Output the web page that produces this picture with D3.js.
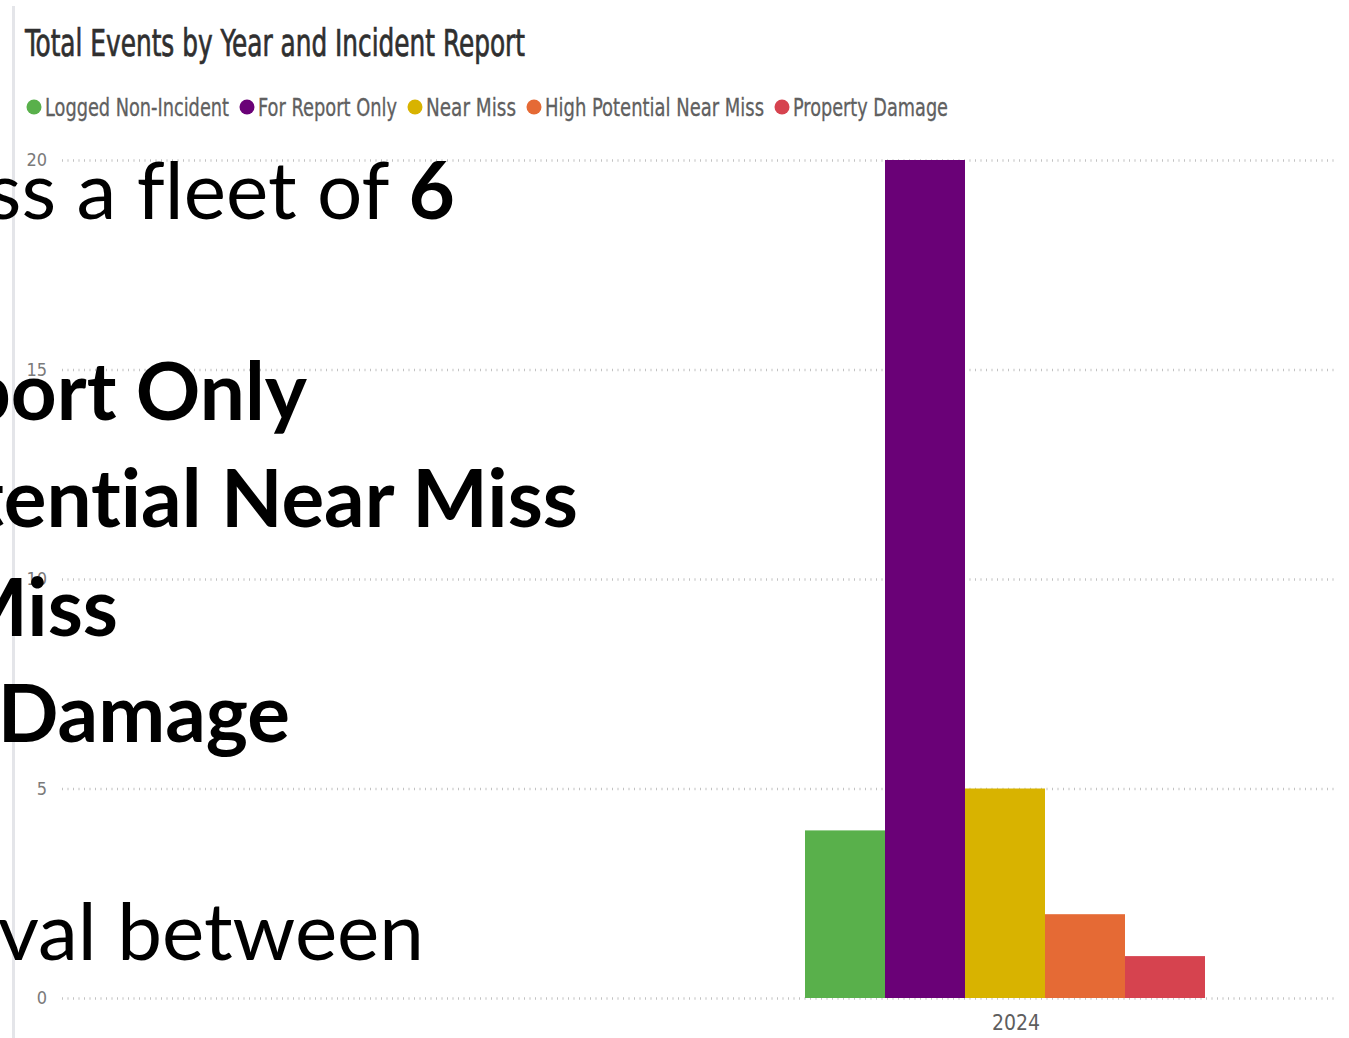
<!DOCTYPE html>
<html>
<head>
<meta charset="utf-8">
<script src="https://cdn.jsdelivr.net/npm/d3@7"></script>
<style>
  html, body { margin: 0; padding: 0; background: #fff; overflow: hidden; }
  svg { display: block; }
</style>
</head>
<body>
<svg id="chart" width="1349" height="1038"></svg>
<script>
// ---- data ----
const years = ["2024"];
const reportTypes = ["Logged Non-Incident", "For Report Only", "Near Miss", "High Potential Near Miss", "Property Damage"];
const counts2024 = [4, 20, 5, 2, 1];
const typeColors = ["#59b04b", "#6a0177", "#d8b300", "#e56a35", "#d6434f"];
const yTicks = [0, 5, 10, 15, 20];
const chartTitle = "Total Events by Year and Incident Report";

// slide notes laid over the chart (each line: runs of regular / bold text)
const noteLines = [
  [{ t: "across a fleet of ", b: false }, { t: "6", b: true }],
  [{ t: "For Report Only", b: true }],
  [{ t: "High Potential Near Miss", b: true }],
  [{ t: "Near Miss", b: true }],
  [{ t: "Property Damage", b: true }],
  [{ t: "interval between", b: false }]
];

// ---- layout ----
const W = 1349, H = 1038;
const plot = { left: 62, right: 1335, top: 160, bottom: 998 };
const groupRange = [805, 1205];
const condensed = "'Liberation Sans Narrow', 'DejaVu Sans Condensed', Roboto, sans-serif";

const svg = d3.select("#chart");

// panel edge
svg.append("line")
  .attr("x1", 13.5).attr("x2", 13.5).attr("y1", 6).attr("y2", H)
  .attr("stroke", "#e4e5e9").attr("stroke-width", 3);

// title
svg.append("text")
  .attr("x", 25).attr("y", 56)
  .attr("font-family", condensed)
  .attr("font-size", 37)
  .attr("fill", "#2f2f2f")
  .attr("stroke", "#2f2f2f")
  .attr("stroke-width", 0.7)
  .attr("textLength", 500)
  .attr("lengthAdjust", "spacingAndGlyphs")
  .text(chartTitle);

// legend (flow layout with condensed text)
const legend = svg.append("g").attr("transform", "translate(0,107)");
let lx = 27;
const legendWidths = [184, 139, 90, 219, 155];
reportTypes.forEach((name, i) => {
  legend.append("circle")
    .attr("cx", lx + 7).attr("cy", 0).attr("r", 7.5)
    .attr("fill", typeColors[i]);
  legend.append("text")
    .attr("x", lx + 18).attr("y", 0).attr("dy", "0.36em")
    .attr("font-family", condensed)
    .attr("font-size", 25)
    .attr("fill", "#606060")
    .attr("stroke", "#606060")
    .attr("stroke-width", 0.3)
    .attr("textLength", legendWidths[i])
    .attr("lengthAdjust", "spacingAndGlyphs")
    .text(name);
  lx += 18 + legendWidths[i] + 11;
});

// scales
const y = d3.scaleLinear().domain([0, 20]).range([plot.bottom, plot.top]);
const x0 = d3.scaleBand().domain(years).range(groupRange).padding(0);
const x1 = d3.scaleBand().domain(reportTypes).range([0, x0.bandwidth()]).padding(0);

// y axis with dotted gridlines
const yAxis = svg.append("g")
  .attr("transform", `translate(${plot.left},0)`)
  .call(d3.axisLeft(y).tickValues(yTicks).tickSize(-(plot.right - plot.left)).tickPadding(15));
yAxis.select(".domain").remove();
yAxis.selectAll(".tick line")
  .attr("stroke", "#c2c2c2")
  .attr("stroke-width", 2.5)
  .attr("stroke-dasharray", "1,4.5");
yAxis.selectAll(".tick text")
  .attr("font-family", condensed)
  .attr("font-size", 18)
  .attr("fill", "#7a7a7a");

// bars
const groups = svg.append("g").selectAll("g")
  .data(years)
  .join("g")
  .attr("transform", d => `translate(${x0(d)},0)`);
groups.selectAll("rect")
  .data(() => reportTypes.map((t, i) => ({ type: t, value: counts2024[i], color: typeColors[i] })))
  .join("rect")
  .attr("x", d => x1(d.type))
  .attr("y", d => y(d.value))
  .attr("width", x1.bandwidth())
  .attr("height", d => y(0) - y(d.value))
  .attr("fill", d => d.color);

// x axis label
const xAxis = svg.append("g")
  .attr("transform", `translate(0,${plot.bottom})`)
  .call(d3.axisBottom(x0).tickSize(0).tickPadding(17));
xAxis.select(".domain").remove();
xAxis.selectAll(".tick text")
  .attr("dx", 11)
  .attr("font-family", condensed)
  .attr("font-size", 21)
  .attr("fill", "#5e5e5e");

// overlaid slide notes, right-aligned and running off the left edge
const noteRight = [455, 307, 578, 118, 290, 424];
const noteBase = [219, 420, 527, 636, 742, 960];
const notes = svg.append("g")
  .attr("font-family", "Lato, 'Open Sans', sans-serif")
  .attr("font-size", 80)
  .attr("fill", "#000")
  .style("font-variant-ligatures", "none");
noteLines.forEach((runs, i) => {
  const t = notes.append("text")
    .attr("x", noteRight[i]).attr("y", noteBase[i])
    .attr("text-anchor", "end");
  runs.forEach(r => {
    t.append("tspan")
      .attr("font-weight", r.b ? 700 : 400)
      .text(r.t);
  });
});
</script>
</body>
</html>
